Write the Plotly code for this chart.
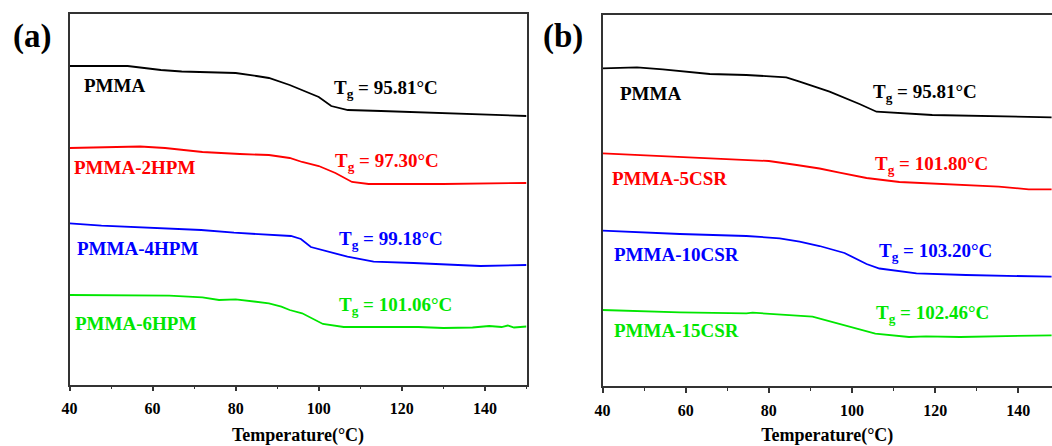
import plotly.graph_objects as go

# ---------------- data (heat flow, arbitrary units) ----------------
# Panel (a)
a_pmma_T = [40, 50, 54, 58, 62, 67, 75, 80, 85, 88, 93, 96, 100, 103, 107, 115, 123, 139, 150]
a_pmma_v = [334, 334.5, 334, 332, 330, 328.5, 328, 327, 324, 322, 315, 310, 303, 294, 290, 289, 288, 286, 284]

a_2hpm_T = [40, 47, 57, 63, 72, 81, 88, 93, 96, 100, 104, 108, 112, 130, 150]
a_2hpm_v = [252, 252.5, 253.5, 252, 248, 246, 245, 242, 238, 234, 227, 218, 216, 216, 217]

a_4hpm_T = [40, 47.7, 71.7, 79.6, 93.3, 95.7, 98.1, 106.9, 113.2, 122.8, 138.9, 150]
a_4hpm_v = [176.7, 174.3, 170, 167.3, 164, 161, 153, 143.3, 138.3, 137, 134, 135]

a_6hpm_T = [40, 48, 64, 72, 76, 80, 88, 91, 93, 96, 99, 101, 106, 115, 124, 130, 137, 141, 144, 145.5, 147, 150]
a_6hpm_v = [105, 105, 104.3, 102.7, 100, 100.7, 96.7, 93.3, 90, 86.7, 80, 76, 73, 73, 73, 72, 72.5, 74, 73, 74.5, 72.5, 73.5]

# Panel (b)
b_pmma_T = [40, 48.3, 54.5, 65.8, 74.6, 84.2, 87.4, 92.2, 94.6, 101.8, 105.9, 119.3, 131.3, 148]
b_pmma_v = [331.7, 332.7, 330.7, 326, 325, 322.7, 318.3, 311.7, 308.3, 296, 288.3, 285, 284, 282.7]

b_5csr_T = [40, 52, 68, 80, 86.7, 92.2, 97, 103.5, 111.4, 123.4, 135.3, 142.5, 148]
b_5csr_v = [246.7, 244.3, 241.7, 239, 235, 231.5, 227.3, 222, 218, 216, 213.3, 210.7, 210.7]

b_10csr_T = [40, 58.6, 74.6, 82.6, 87.4, 92.2, 98.2, 103.5, 106.6, 115.5, 127.4, 148]
b_10csr_v = [169.3, 166, 164, 161.7, 158.3, 154, 147, 136, 131.5, 126.7, 125, 123.3]

b_15csr_T = [40, 58.6, 74.6, 76.1, 90.5, 93.4, 97.4, 105.6, 113.7, 117.8, 126, 134.1, 148]
b_15csr_v = [90, 87.7, 86.7, 87.3, 83.3, 80, 75, 66.4, 63, 63.7, 63, 63.7, 64.7]

a_names = ["PMMA", "PMMA-2HPM", "PMMA-4HPM", "PMMA-6HPM"]
b_names = ["PMMA", "PMMA-5CSR", "PMMA-10CSR", "PMMA-15CSR"]
a_tg = ["T<sub>g</sub> = 95.81°C", "T<sub>g</sub> = 97.30°C", "T<sub>g</sub> = 99.18°C", "T<sub>g</sub> = 101.06°C"]
b_tg = ["T<sub>g</sub> = 95.81°C", "T<sub>g</sub> = 101.80°C", "T<sub>g</sub> = 103.20°C", "T<sub>g</sub> = 102.46°C"]
x_title = "Temperature(°C)"

# ---------------- style ----------------
colors = ["#000000", "#ff0000", "#0000ff", "#00e600"]
FONT = "Liberation Serif, Times New Roman, serif"

# label positions (T, v)
a_name_pos = [(43.0, 314), (40.6, 233), (41.3, 152), (40.8, 77)]
a_tg_pos = [(103.3, 311), (103.5, 238), (104.5, 160), (104.5, 94)]
b_name_pos = [(43.7, 307), (41.8, 222), (42.3, 146), (42.3, 70)]
b_tg_pos = [(104.5, 307), (105.0, 235), (106.1, 148), (105.2, 86)]

fig = go.Figure()

a_series = [(a_pmma_T, a_pmma_v), (a_2hpm_T, a_2hpm_v), (a_4hpm_T, a_4hpm_v), (a_6hpm_T, a_6hpm_v)]
b_series = [(b_pmma_T, b_pmma_v), (b_5csr_T, b_5csr_v), (b_10csr_T, b_10csr_v), (b_15csr_T, b_15csr_v)]

for (T, v), c, n in zip(a_series, colors, a_names):
    fig.add_trace(go.Scatter(x=T, y=v, mode="lines", name=n, line=dict(color=c, width=1.8),
                             xaxis="x", yaxis="y", showlegend=False))
for (T, v), c, n in zip(b_series, colors, b_names):
    fig.add_trace(go.Scatter(x=T, y=v, mode="lines", name=n, line=dict(color=c, width=1.8),
                             xaxis="x2", yaxis="y2", showlegend=False))

annotations = []
for names, tgs, npos, tpos, xr, yr in [(a_names, a_tg, a_name_pos, a_tg_pos, "x", "y"),
                                       (b_names, b_tg, b_name_pos, b_tg_pos, "x2", "y2")]:
    for n, t, p1, p2, c in zip(names, tgs, npos, tpos, colors):
        annotations.append(dict(x=p1[0], y=p1[1], xref=xr, yref=yr, text=n, showarrow=False,
                                xanchor="left", yanchor="middle",
                                font=dict(family=FONT, size=19, color=c, weight="bold")))
        annotations.append(dict(x=p2[0], y=p2[1], xref=xr, yref=yr, text=t, showarrow=False,
                                xanchor="left", yanchor="middle",
                                font=dict(family=FONT, size=19, color=c, weight="bold")))

annotations.append(dict(x=32 / 1052, y=1 - 36 / 446, xref="paper", yref="paper", text="(a)",
                        showarrow=False, xanchor="center", yanchor="middle",
                        font=dict(family=FONT, size=33, color="black", weight="bold")))
annotations.append(dict(x=563 / 1052, y=1 - 36 / 446, xref="paper", yref="paper", text="(b)",
                        showarrow=False, xanchor="center", yanchor="middle",
                        font=dict(family=FONT, size=33, color="black", weight="bold")))

xcommon = dict(showline=True, linecolor="#333333", linewidth=1.5, showgrid=False, zeroline=False,
               ticks="outside", ticklen=5, tickwidth=1.5, tickcolor="#333333", dtick=20, tick0=40,
               minor=dict(ticks="outside", ticklen=3, tickwidth=1.2, tickcolor="#333333", dtick=10, tick0=40),
               tickfont=dict(family=FONT, size=16, color="black", weight="bold"),
               ticklabelstandoff=4, automargin=False,
               title=dict(text=x_title, font=dict(family=FONT, size=18, color="black", weight="bold"),
                          standoff=14))
ycommon = dict(showline=True, linecolor="#333333", linewidth=1.5, showgrid=False, zeroline=False,
               showticklabels=False, ticks="", automargin=False)

fig.update_layout(
    width=1052, height=446,
    margin=dict(l=0, r=0, t=0, b=0, autoexpand=False),
    paper_bgcolor="white", plot_bgcolor="white",
    xaxis=dict(domain=[69.5 / 1052, 526.5 / 1052], range=[40, 150], mirror=True, anchor="y", **xcommon),
    yaxis=dict(domain=[61.5 / 446, 432 / 446], range=[15.5, 386], mirror=True, anchor="x", **ycommon),
    xaxis2=dict(domain=[602.5 / 1052, 1.0], range=[40, 148.1], mirror=True, anchor="y2", **xcommon),
    yaxis2=dict(domain=[60 / 446, 431 / 446], range=[14, 385], mirror=False, anchor="x2", **ycommon),
    annotations=annotations,
)

fig.write_html("out.html", config={"displayModeBar": False},
               post_script="document.body.style.margin='0';document.body.style.overflow='hidden';")
